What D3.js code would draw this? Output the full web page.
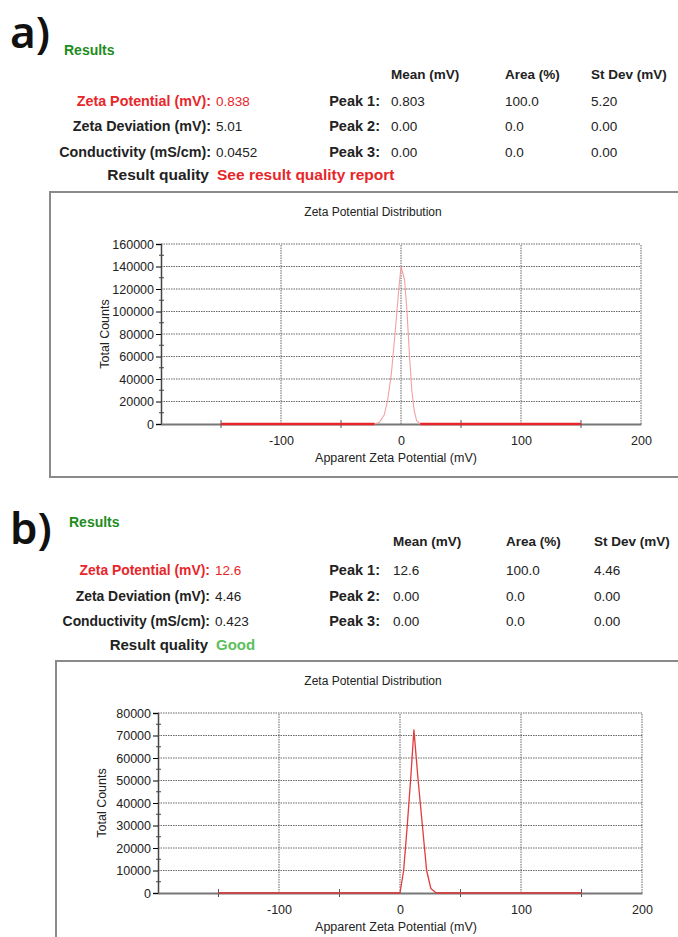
<!DOCTYPE html>
<html>
<head>
<meta charset="utf-8">
<script src="https://cdn.jsdelivr.net/npm/d3@7"></script>
<style>
  body { margin: 0; background: #fff; }
  svg { display: block; }
</style>
</head>
<body>
<svg width="678" height="937"></svg>
<script>
// ---- data ----
var rowLabels = ["Zeta Potential (mV):", "Zeta Deviation (mV):", "Conductivity (mS/cm):"];
var peakLabels = ["Peak 1:", "Peak 2:", "Peak 3:"];
var colHeads = ["Mean (mV)", "Area (%)", "St Dev (mV)"];

var valuesA = ["0.838", "5.01", "0.0452"];
var meanA = ["0.803", "0.00", "0.00"];
var areaA = ["100.0", "0.0", "0.0"];
var sdA = ["5.20", "0.00", "0.00"];

var valuesB = ["12.6", "4.46", "0.423"];
var meanB = ["12.6", "0.00", "0.00"];
var areaB = ["100.0", "0.0", "0.0"];
var sdB = ["4.46", "0.00", "0.00"];

var xTicks = [-100, 0, 100, 200];
var xMinor = [-150, -50, 50, 150];

var yTicksA = [0, 20000, 40000, 60000, 80000, 100000, 120000, 140000, 160000];
var yMinorA = [10000, 30000, 50000, 70000, 90000, 110000, 130000, 150000];
var yTicksB = [0, 10000, 20000, 30000, 40000, 50000, 60000, 70000, 80000];
var yMinorB = [5000, 15000, 25000, 35000, 45000, 55000, 65000, 75000];

// zeta potential (mV) and total counts
var zetaA   = [-150, -22, -18, -14, -11, -8, -5, -2, 0, 3, 5, 7, 9, 11, 13, 16, 150];
var countsA = [0, 0, 1500, 8000, 22000, 45000, 80000, 118000, 140000, 128000, 100000, 62000, 30000, 12000, 3000, 0, 0];

var zetaB   = [-150, 0, 3, 6, 9, 11.5, 15, 18.5, 22, 25.5, 30, 150];
var countsB = [0, 0, 10000, 30000, 52000, 72500, 50000, 30000, 10000, 2000, 0, 0];

var FONT = "Arial, 'Liberation Sans', Helvetica, sans-serif";
var svg = d3.select("svg").style("font-family", FONT);

function txt(g, x, y, s, size, bold, col, anchor) {
  return g.append("text").attr("x", x).attr("y", y)
    .attr("text-anchor", anchor || "start")
    .style("font-family", FONT)
    .style("font-size", size + "px")
    .style("font-weight", bold ? "bold" : "normal")
    .attr("fill", col).text(s);
}

function drawPanel(p) {
  var g = svg.append("g");

  // frame round the chart
  g.append("rect")
    .attr("x", p.box[0]).attr("y", p.box[1])
    .attr("width", 700 - p.box[0]).attr("height", p.box[2] - p.box[1])
    .attr("fill", "none").attr("stroke", "#8a8a8a").attr("stroke-width", 2);

  // panel letter
  g.append("text").attr("x", 10).attr("y", p.letterY)
    .style("font-family", "'Noto Sans', sans-serif").style("font-weight", "600")
    .style("font-size", "44px").attr("fill", "#111").text(p.letter);

  txt(g, p.resX, p.resY, "Results", 14, true, "#1e8c1e");

  // column headings
  colHeads.forEach(function(h, i) {
    txt(g, p.cols[i], p.headY, h, 13.5, true, "#222");
  });

  var cols = [p.mean, p.area, p.sd];
  rowLabels.forEach(function(lab, i) {
    var y = p.rowY[i];
    var col = i == 0 ? "#e8262a" : "#222";
    txt(g, p.labEnd, y, lab, p.fs, true, col, "end");
    txt(g, p.labEnd + 5, y, p.values[i], 13.5, false, col);
    txt(g, p.peakEnd, y, peakLabels[i], 14.5, true, "#222", "end");
    cols.forEach(function(c, j) {
      txt(g, p.cols[j], y, c[i], 13.5, false, "#222");
    });
  });

  txt(g, p.labEnd - 2, p.qualY, "Result quality", p.qfs, true, "#222", "end");
  txt(g, p.labEnd + 6, p.qualY, p.quality, p.qfs, true, p.qualColor);

  // ---- chart ----
  var x = d3.scaleLinear().domain([-200, 200]).range([p.plot[0], p.plot[1]]);
  var y = d3.scaleLinear().domain([0, p.yMax]).range([p.plot[3], p.plot[2]]);

  txt(g, 373, p.plot[2] - 28, "Zeta Potential Distribution", 12, false, "#222", "middle");

  // grid
  g.append("g").selectAll("line").data(p.yTicks.slice(1)).enter().append("line")
    .attr("x1", x(-200)).attr("x2", x(200))
    .attr("y1", function(d) { return y(d); }).attr("y2", function(d) { return y(d); })
    .attr("stroke", "#666").attr("stroke-width", 1).attr("stroke-dasharray", "1.5,1");
  g.append("g").selectAll("line").data(xTicks).enter().append("line")
    .attr("x1", function(d) { return x(d); }).attr("x2", function(d) { return x(d); })
    .attr("y1", y(0)).attr("y2", y(p.yMax))
    .attr("stroke", "#666").attr("stroke-width", 1).attr("stroke-dasharray", "1.5,1");

  // axes
  var yAxis = g.append("g").attr("transform", "translate(" + x(-200) + ",0)")
    .call(d3.axisLeft(y).tickValues(p.yTicks).tickSize(5).tickFormat(function(d) { return String(d); }));
  yAxis.select(".domain").attr("stroke", "#444").attr("stroke-width", 1.5);
  yAxis.selectAll("text").style("font-family", FONT).style("font-size", "12.5px").attr("fill", "#222").attr("dx", "1");
  g.append("g").selectAll("line").data(p.yMinor).enter().append("line")
    .attr("x1", x(-200) - 2).attr("x2", x(-200) + 3)
    .attr("y1", function(d) { return y(d); }).attr("y2", function(d) { return y(d); })
    .attr("stroke", "#444");

  var xAxis = g.append("g").attr("transform", "translate(0," + y(0) + ")")
    .call(d3.axisBottom(x).tickValues(xTicks).tickSize(0).tickPadding(12)
      .tickFormat(function(d) { return String(d); }));
  xAxis.select(".domain").attr("stroke", "#777").attr("stroke-width", 2);
  xAxis.selectAll("text").style("font-family", FONT).style("font-size", "12.5px").attr("fill", "#222");
  g.append("g").selectAll("line").data(xMinor).enter().append("line")
    .attr("x1", function(d) { return x(d); }).attr("x2", function(d) { return x(d); })
    .attr("y1", y(0) - 4).attr("y2", y(0) + 4).attr("stroke", "#555");

  txt(g, 396, p.plot[3] + 38, "Apparent Zeta Potential (mV)", 12.5, false, "#222", "middle");
  txt(g, 0, 0, "Total Counts", 12.5, false, "#222", "middle")
    .attr("transform", "translate(" + (p.plot[0] - 52) + "," + ((p.plot[2] + p.plot[3]) / 2) + ") rotate(-90)");

  // distribution curve
  var pts = p.zeta.map(function(z, i) { return [z, p.counts[i]]; });
  var line = d3.line().x(function(d) { return x(d[0]); }).y(function(d) { return y(d[1]); });

  g.append("path").datum(pts).attr("d", line).attr("fill", "none")
    .attr("stroke", p.curveColor).attr("stroke-width", p.curveWidth)
    .attr("stroke-linejoin", "round");

  // flat zero stretches drawn heavier on the baseline
  var flat = [];
  for (var i = 0; i < pts.length - 1; i++) {
    if (pts[i][1] == 0 && pts[i + 1][1] == 0) flat.push([pts[i], pts[i + 1]]);
  }
  g.append("g").selectAll("path").data(flat).enter().append("path")
    .attr("d", line).attr("fill", "none")
    .attr("stroke", p.baseColor).attr("stroke-width", p.baseWidth);
}

drawPanel({
  letter: "a)", letterY: 48, resX: 64, resY: 55,
  headY: 79, rowY: [106, 131, 157], qualY: 180,
  cols: [391, 505, 591], labEnd: 211, peakEnd: 380, fs: 14.3, qfs: 15.5,
  values: valuesA, mean: meanA, area: areaA, sd: sdA,
  quality: "See result quality report", qualColor: "#e8262a",
  box: [50, 192, 477],
  plot: [161, 641, 244, 424], yMax: 160000,
  yTicks: yTicksA, yMinor: yMinorA,
  zeta: zetaA, counts: countsA,
  curveColor: "#f4a0a2", curveWidth: 1.1, baseColor: "#e8262a", baseWidth: 2.5
});

drawPanel({
  letter: "b)", letterY: 544, resX: 69, resY: 527,
  headY: 546, rowY: [575, 601, 626], qualY: 650,
  cols: [393, 506, 594], labEnd: 210, peakEnd: 380, fs: 13.9, qfs: 15,
  values: valuesB, mean: meanB, area: areaB, sd: sdB,
  quality: "Good", qualColor: "#5cc05c",
  box: [56, 661, 960],
  plot: [158, 642, 713, 893], yMax: 80000,
  yTicks: yTicksB, yMinor: yMinorB,
  zeta: zetaB, counts: countsB,
  curveColor: "#e03c3c", curveWidth: 1.3, baseColor: "#c8484a", baseWidth: 2
});
</script>
</body>
</html>
